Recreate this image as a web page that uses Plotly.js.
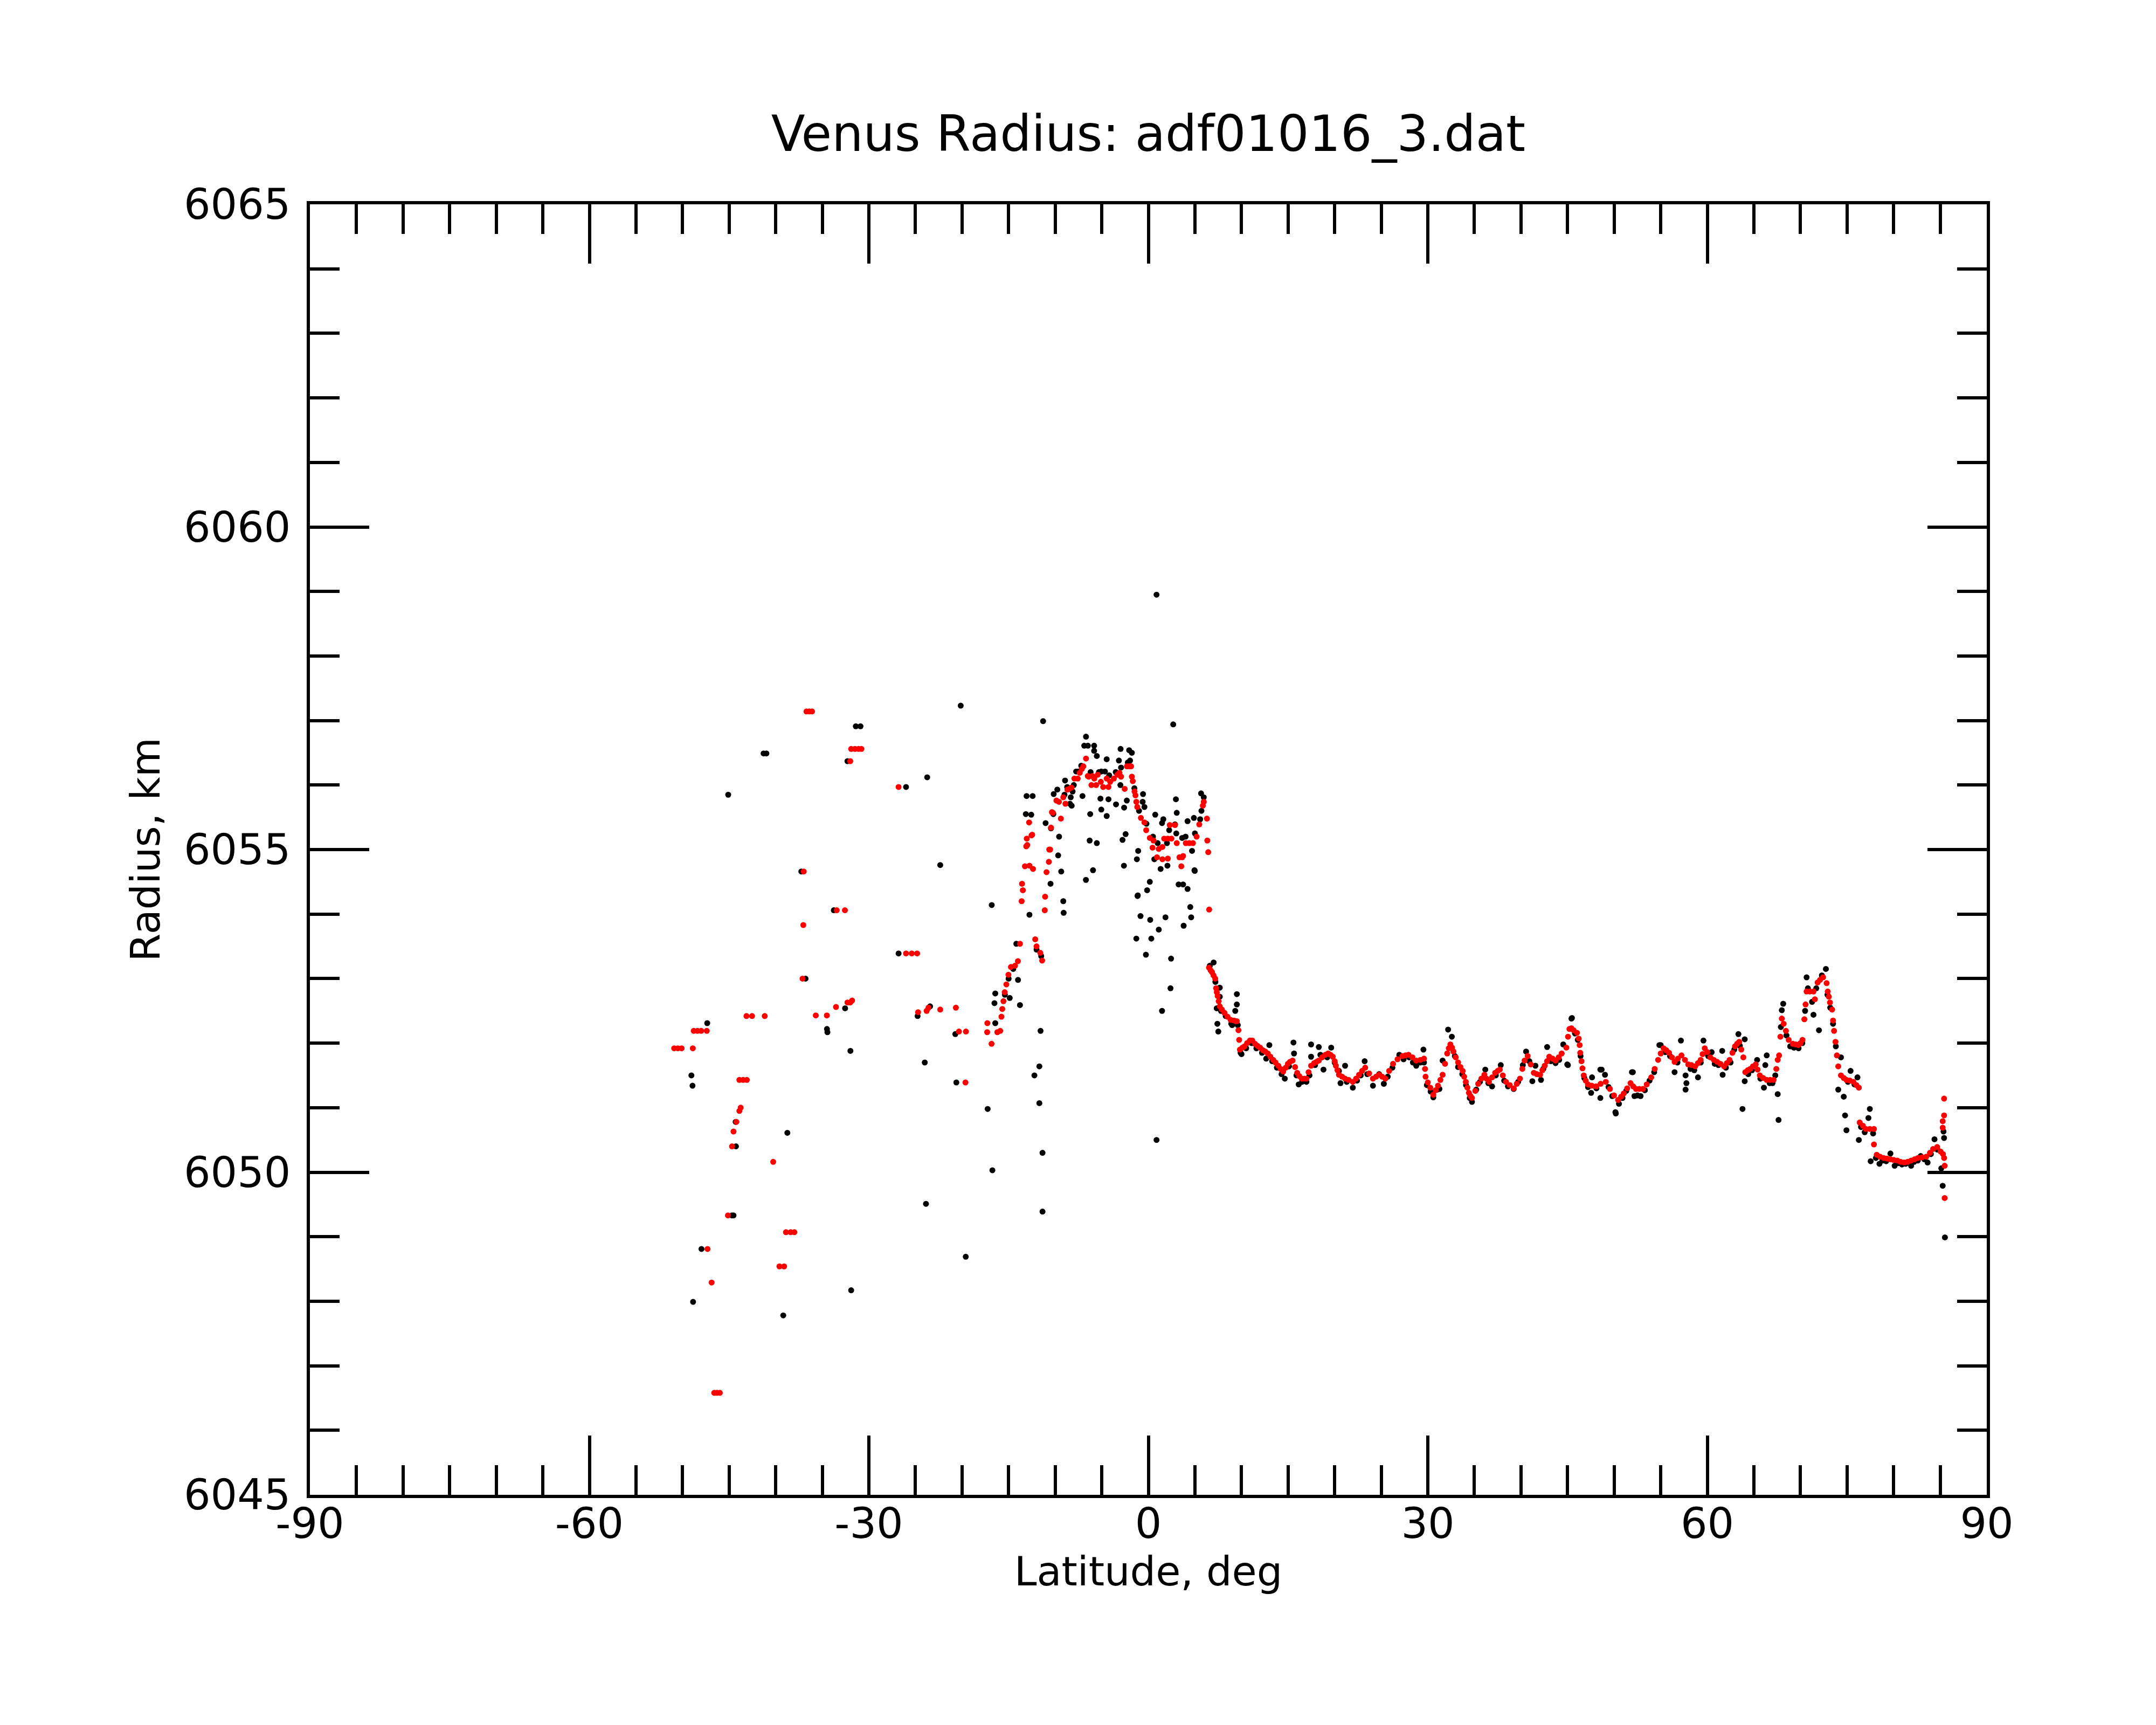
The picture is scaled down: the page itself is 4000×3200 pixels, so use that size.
<!DOCTYPE html>
<html>
<head>
<meta charset="utf-8">
<script src="https://cdn.plot.ly/plotly-3.0.1.min.js"></script>
<style>html,body{margin:0;padding:0;background:#fff;}</style>
</head>
<body>
<div id="chart" style="width:4000px;height:3200px;"></div>
<script>
// ---- DATA: [latitude (deg), radius (km)] ----
const chartTitle = "Venus Radius: adf01016_3.dat";
const xTitle = "Latitude, deg";
const yTitle = "Radius, km";
const xTickVals = [-90, -60, -30, 0, 30, 60, 90];
const yTickVals = [6045, 6050, 6055, 6060, 6065];

// raw radius samples (black)
const blackSouth = [
  [-49.05,6051.50],[-48.93,6051.34],[-48.87,6047.99],[-47.97,6048.81],[-47.35,6052.31],
  [-45.10,6055.85],[-44.70,6049.33],[-44.53,6049.33],[-44.27,6050.40],[-44.30,6050.78],
  [-41.30,6056.49],[-41.00,6056.49],[-39.19,6047.78],[-38.75,6050.61],[-37.25,6054.66],
  [-36.80,6053.00],[-34.50,6052.22],[-34.45,6052.17],[-33.76,6054.06],[-32.55,6052.54],
  [-32.30,6056.37],[-31.98,6051.88],[-31.90,6048.17],[-31.40,6056.91],[-30.90,6056.91],
  [-26.81,6053.39],[-26.01,6055.97],[-24.77,6052.42],[-24.00,6051.70],[-23.87,6049.51],
  [-23.74,6056.12],[-23.43,6052.57],[-22.34,6054.76],[-20.72,6052.14],[-20.61,6051.39],
  [-20.14,6057.23],[-19.60,6048.69],[-17.25,6050.98],[-16.81,6054.14],[-16.74,6050.03]
];
const blackEquator = [
  [-16.43,6052.77],[-16.52,6052.62],[-16.43,6052.31],[-14.88,6052.70],[-13.78,6052.59],
  [-13.99,6052.98],[-14.17,6053.54],[-12.76,6053.99],[-11.57,6052.19],[-11.70,6051.64],
  [-12.23,6051.50],[-11.70,6051.07],[-11.36,6050.30],[-11.36,6049.39],[-11.30,6056.99],
  [-13.07,6055.83],[-12.42,6055.83],[-13.15,6055.55],[-12.57,6055.54],[-11.03,6055.41],
  [-10.45,6055.33],[-9.58,6055.20],[-10.50,6054.47],[-9.68,6054.91],[-9.35,6054.66],
  [-9.13,6054.20],[-9.09,6054.02],[-10.16,6055.86],[-9.77,6055.93],[-8.94,6056.07],
  [-8.71,6055.97],[-8.13,6055.90],[-8.33,6055.81],[-8.42,6055.71],[-8.23,6055.68],
  [-7.75,6056.21],[-7.50,6056.21],[-7.07,6055.83],[-6.88,6056.61],[-6.69,6056.75],
  [-6.49,6056.61],[-5.82,6056.61],[-5.82,6056.53],[-5.53,6056.45],[-4.47,6056.40],
  [-2.98,6056.56],[-2.06,6056.54],[-1.77,6056.50],[-3.16,6056.38],[-1.96,6056.38],
  [-5.05,6056.21],[-4.66,6056.21],[-2.93,6056.27],[-5.14,6055.79],[-4.28,6055.78],
  [-3.47,6055.70],[-2.60,6055.65],[-2.31,6055.76],[-6.24,6055.55],[-5.05,6055.62],
  [-4.47,6055.52],[-6.30,6055.14],[-5.53,6055.10],[-5.94,6054.68],[-6.70,6054.53],
  [-2.44,6055.24],[-2.77,6055.15],[-2.62,6054.75],[-0.57,6055.86],[-0.61,6055.74],
  [-0.42,6055.66],[0.74,6055.54],[1.61,6055.47],[1.47,6055.41],[2.24,6055.30],
  [2.86,6055.39],[3.05,6055.57],[2.96,6055.78],[4.21,6055.44],[4.89,6055.49],
  [5.56,6055.47],[5.66,6055.87],[5.95,6055.81],[3.63,6055.18],[4.69,6054.98],
  [4.98,6054.67],[-1.09,6054.98],[-1.23,6054.85],[0.16,6054.50],[-0.13,6054.37],
  [-1.13,6054.29],[0.64,6054.85],[1.32,6054.70],[2.05,6054.75],[3.25,6054.46],
  [3.73,6054.46],[4.21,6054.39],[4.50,6054.11],[4.60,6053.95],[3.79,6053.82],
  [-0.84,6053.97],[0.20,6053.91],[1.84,6053.95],[1.12,6053.76],[-1.29,6053.62],
  [0.32,6053.62],[-0.26,6053.37],[2.44,6053.31],[2.38,6052.85],[1.47,6052.50],
  [0.88,6058.95],[0.88,6050.50],[2.67,6056.94],[4.95,6054.68],[-1.16,6054.28],
  [-9.00,6055.85],[-8.00,6056.00],[-7.20,6056.30],[-6.20,6056.20],[-5.30,6056.20],
  [-4.20,6056.15],[-3.50,6056.20],[-3.00,6056.00],[-2.20,6056.35],[-1.50,6055.95],
  [-1.00,6055.60],[-0.20,6055.40],[0.50,6055.20],[1.00,6055.10],[2.00,6055.10],
  [3.00,6055.25],[4.00,6055.20],[5.00,6055.25],[5.70,6055.60],[-15.40,6052.75],
  [-15.00,6053.00],[-14.50,6053.15],[-12.00,6053.45],[-11.50,6053.35],[-10.20,6055.55]
];
const blackNorth = [
  [6.60,6053.20],[7.01,6053.25],[7.20,6052.95],[7.34,6052.54],[7.41,6052.30],[7.51,6052.18],
  [7.67,6052.86],[7.67,6052.72],[7.80,6052.50],[8.30,6052.42],[8.90,6052.30],[9.00,6052.28],
  [9.33,6052.50],[9.50,6052.60],[9.50,6052.76],[9.60,6052.28],[9.90,6051.85],[10.00,6051.83],
  [10.50,6051.92],[11.10,6052.00],[11.60,6051.92],[12.20,6051.85],[12.65,6051.76],[12.99,6051.97],
  [13.30,6051.72],[13.80,6051.62],[14.30,6051.52],[14.65,6051.45],[15.10,6051.64],[15.58,6052.01],
  [15.64,6051.84],[15.90,6051.50],[16.14,6051.36],[16.50,6051.40],[16.97,6051.40],[17.30,6051.50],
  [17.47,6051.98],[17.47,6051.79],[17.90,6051.66],[18.30,6051.94],[18.47,6051.82],[18.80,6051.59],
  [19.20,6051.78],[19.63,6051.93],[20.00,6051.70],[20.46,6051.57],[20.63,6051.38],[21.12,6051.65],
  [21.30,6051.40],[21.95,6051.31],[22.40,6051.42],[22.80,6051.50],[23.22,6051.72],[23.50,6051.52],
  [24.11,6051.34],[24.78,6051.52],[25.28,6051.37],[25.70,6051.48],[26.20,6051.62],[26.94,6051.82],
  [27.40,6051.75],[28.00,6051.78],[28.40,6051.70],[28.76,6051.65],[29.20,6051.70],[29.53,6051.90],
  [29.59,6051.70],[29.90,6051.35],[30.30,6051.25],[30.59,6051.16],[31.00,6051.28],[31.25,6051.29],
  [31.59,6051.73],[32.18,6052.21],[32.58,6052.10],[32.90,6051.80],[33.25,6051.63],[33.70,6051.52],
  [34.10,6051.35],[34.50,6051.15],[34.74,6051.09],[35.20,6051.28],[35.60,6051.40],[36.17,6051.59],
  [36.50,6051.38],[36.90,6051.33],[37.30,6051.50],[37.83,6051.66],[38.20,6051.42],[38.60,6051.33],
  [39.22,6051.29],[39.70,6051.40],[40.20,6051.66],[40.55,6051.87],[40.90,6051.72],[41.22,6051.41],
  [41.55,6051.65],[42.15,6051.43],[42.40,6051.60],[42.81,6051.94],[43.20,6051.72],[43.71,6051.69],
  [44.10,6051.74],[44.54,6051.98],[44.97,6051.67],[45.04,6051.66],[45.42,6052.38],[45.47,6052.39],
  [45.80,6052.15],[46.10,6052.05],[46.40,6051.80],[46.80,6051.46],[47.20,6051.32],[47.53,6051.23],
  [47.63,6051.47],[48.10,6051.30],[48.52,6051.15],[48.52,6051.59],[48.66,6051.59],[49.02,6051.51],
  [49.40,6051.32],[49.80,6051.18],[50.14,6050.93],[50.18,6050.91],[50.52,6051.06],[50.90,6051.15],
  [51.30,6051.26],[51.91,6051.55],[52.01,6051.55],[52.18,6051.18],[52.50,6051.19],[52.84,6051.18],
  [53.30,6051.27],[53.80,6051.42],[54.30,6051.55],[54.86,6051.97],[55.00,6051.97],[55.50,6051.86],
  [56.00,6051.80],[56.49,6051.55],[56.80,6051.70],[57.17,6052.04],[57.67,6051.50],[57.76,6051.38],
  [57.67,6051.28],[58.20,6051.60],[58.60,6051.58],[59.00,6051.47],[59.30,6051.70],[59.59,6052.04],
  [60.10,6051.80],[60.47,6051.86],[60.80,6051.68],[61.20,6051.66],[61.60,6051.88],[61.65,6051.51],
  [62.00,6051.62],[62.50,6051.70],[62.90,6051.90],[63.34,6052.14],[63.50,6051.96],[63.78,6050.98],
  [64.02,6052.06],[64.02,6051.41],[64.40,6051.52],[64.80,6051.58],[65.35,6051.74],[65.70,6051.45],
  [66.08,6051.31],[66.23,6051.66],[66.38,6051.81],[66.70,6051.38],[67.00,6051.38],[67.30,6051.50],
  [67.56,6051.21],[67.65,6050.81],[67.90,6052.25],[68.00,6052.51],[68.15,6052.61],[68.50,6052.12],
  [68.90,6051.95],[69.30,6051.93],[69.80,6051.92],[70.20,6052.00],[70.50,6052.50],[70.66,6053.02],
  [70.80,6052.85],[71.25,6052.64],[71.40,6052.44],[71.70,6052.85],[71.99,6052.20],[72.30,6053.05],
  [72.73,6053.15],[72.90,6052.75],[73.20,6052.55],[73.50,6052.30],[73.80,6051.95],[74.06,6051.28],
  [74.35,6051.78],[74.65,6051.17],[74.79,6050.88],[74.94,6050.65],[75.10,6051.40],[75.38,6051.57],
  [75.80,6051.36],[76.12,6051.47],[76.27,6050.50],[76.50,6050.70],[76.90,6050.62],[77.30,6050.84],
  [77.45,6050.98],[77.54,6050.17],[77.80,6050.60],[78.10,6050.22],[78.48,6050.13],[78.80,6050.18],
  [79.20,6050.17],[79.66,6050.29],[80.11,6050.10],[80.50,6050.14],[80.90,6050.12],[81.30,6050.13],
  [81.88,6050.10],[82.20,6050.16],[82.60,6050.18],[82.91,6050.25],[83.30,6050.20],[83.65,6050.15],
  [84.00,6050.28],[84.39,6050.51],[84.70,6050.35],[85.12,6050.06],[85.27,6049.79],[85.36,6050.63],
  [85.42,6050.53],[85.51,6048.99]
];

// smoothed radius (red)
const redSouth = [
  [-50.90,6051.92],[-50.50,6051.92],[-50.10,6051.92],[-48.90,6051.92],[-48.80,6052.19],
  [-48.40,6052.19],[-48.00,6052.19],[-47.40,6052.19],[-47.32,6048.81],[-46.88,6048.29],
  [-46.60,6046.58],[-46.30,6046.58],[-46.00,6046.58],[-45.13,6049.33],[-44.69,6050.40],
  [-44.53,6050.63],[-44.22,6050.78],[-43.90,6050.95],[-43.76,6051.00],[-43.90,6051.43],
  [-43.50,6051.43],[-43.10,6051.43],[-43.14,6052.42],[-42.54,6052.42],[-41.18,6052.42],
  [-40.27,6050.16],[-39.60,6048.54],[-39.10,6048.54],[-38.90,6049.07],[-38.40,6049.07],
  [-38.00,6049.07],[-37.04,6053.83],[-36.99,6054.66],[-37.12,6053.00],[-36.70,6057.14],
  [-36.40,6057.14],[-36.10,6057.14],[-35.70,6052.43],[-34.51,6052.43],[-33.45,6054.06],
  [-32.57,6054.06],[-33.53,6052.56],[-32.30,6052.63],[-32.00,6052.63],[-31.80,6052.66],
  [-32.00,6056.37],[-31.90,6056.56],[-31.50,6056.56],[-31.10,6056.56],[-30.80,6056.56],
  [-26.81,6055.97],[-26.01,6053.39],[-25.40,6053.39],[-24.82,6053.39],[-24.72,6052.48],
  [-23.80,6052.50],[-23.60,6052.55],[-22.34,6052.52],[-20.66,6052.55],[-20.33,6052.18],
  [-19.58,6052.18],[-19.63,6051.39]
];
const redEquator = [
  [-17.28,6052.31],[-17.30,6052.17],[-16.83,6051.99],[-16.21,6052.17],[-15.90,6052.19],
  [-15.77,6052.41],[-15.68,6052.53],[-15.55,6052.65],[-15.42,6052.79],[-15.24,6052.91],
  [-15.02,6053.06],[-14.75,6053.18],[-14.31,6053.20],[-14.00,6053.27],[-13.78,6053.54],
  [-13.60,6054.20],[-13.56,6054.47],[-13.47,6054.37],[-13.25,6054.74],[-13.11,6055.05],
  [-13.05,6055.17],[-13.00,6055.07],[-12.80,6055.42],[-12.76,6054.75],[-12.54,6055.22],
  [-12.47,6055.23],[-12.38,6054.70],[-12.14,6053.61],[-12.00,6053.50],[-11.60,6053.40],
  [-11.40,6053.28],[-11.12,6054.06],[-11.08,6054.27],[-10.93,6054.65],[-10.68,6054.81],
  [-10.64,6055.00],[-10.54,6055.00],[-10.45,6055.34],[-10.35,6055.58],[-10.24,6055.57],
  [-9.87,6055.76],[-9.60,6055.74],[-9.39,6055.48],[-9.13,6055.81],[-8.90,6055.71],
  [-8.69,6055.93],[-8.52,6055.94],[-8.25,6055.96],[-7.94,6056.10],[-7.58,6056.10],
  [-7.36,6056.19],[-7.14,6056.25],[-6.98,6056.29],[-6.69,6056.41],[-6.40,6056.13],
  [-6.11,6056.00],[-5.80,6056.10],[-5.43,6056.16],[-5.10,6056.05],[-4.85,6055.97],
  [-4.47,6056.10],[-4.10,6056.05],[-3.70,6056.10],[-3.31,6056.16],[-2.93,6056.13],
  [-2.54,6055.94],[-2.30,6056.29],[-2.06,6056.29],[-1.85,6056.29],[-1.77,6056.13],
  [-1.67,6056.06],[-1.48,6055.90],[-1.38,6055.84],[-1.29,6055.74],[-1.19,6055.66],
  [-0.80,6055.49],[-0.42,6055.42],[-0.23,6055.30],[0.16,6055.18],[0.45,6055.03],
  [0.55,6055.14],[0.93,6054.88],[1.12,6055.01],[1.51,6055.04],[1.51,6054.85],
  [1.70,6055.17],[2.09,6055.17],[2.09,6054.86],[2.48,6055.17],[2.30,6055.38],
  [2.86,6055.38],[3.05,6055.10],[3.34,6054.88],[3.54,6054.74],[3.63,6054.88],
  [3.73,6054.90],[4.02,6055.10],[4.40,6055.10],[4.79,6055.10],[5.18,6055.20],
  [5.47,6055.39],[5.85,6055.68],[5.95,6055.74],[6.29,6055.48],[6.33,6055.14],
  [6.43,6054.96],[6.53,6054.07],[-6.50,6056.14],[-6.00,6056.14],[-5.60,6056.00],
  [-4.28,6055.97],[-3.10,6056.19]
];
const redNorth = [
  [6.51,6053.17],[6.68,6053.13],[6.84,6053.10],[7.00,6053.05],[7.18,6053.00],[7.27,6052.85],
  [7.35,6052.79],[7.44,6052.73],[7.55,6052.65],[7.67,6052.57],[7.90,6052.52],[8.17,6052.47],
  [8.50,6052.41],[8.84,6052.36],[9.20,6052.35],[9.50,6052.34],[9.67,6052.20],[9.75,6052.05],
  [9.83,6051.90],[10.10,6051.93],[10.33,6051.95],[10.60,6052.00],[10.90,6052.04],[11.16,6052.04],
  [11.45,6051.99],[11.70,6051.96],[11.99,6051.93],[12.30,6051.89],[12.55,6051.87],[12.82,6051.84],
  [13.10,6051.79],[13.40,6051.74],[13.65,6051.70],[13.95,6051.65],[14.20,6051.60],[14.48,6051.56],
  [14.75,6051.62],[14.98,6051.68],[15.20,6051.71],[15.48,6051.73],[15.75,6051.63],[15.98,6051.54],
  [16.20,6051.49],[16.47,6051.45],[16.75,6051.45],[16.97,6051.45],[17.20,6051.55],[17.47,6051.65],
  [17.80,6051.69],[18.05,6051.71],[18.30,6051.73],[18.65,6051.78],[19.00,6051.82],[19.30,6051.84],
  [19.55,6051.82],[19.80,6051.79],[20.00,6051.72],[20.13,6051.65],[20.30,6051.58],[20.46,6051.51],
  [20.80,6051.48],[21.12,6051.45],[21.50,6051.43],[21.95,6051.40],[22.30,6051.45],[22.62,6051.51],
  [22.95,6051.57],[23.28,6051.62],[23.70,6051.53],[24.11,6051.45],[24.45,6051.48],[24.78,6051.51],
  [25.10,6051.48],[25.44,6051.45],[25.85,6051.57],[26.27,6051.68],[26.75,6051.75],[27.27,6051.80],
  [27.60,6051.81],[27.93,6051.82],[28.35,6051.78],[28.76,6051.73],[29.20,6051.74],[29.59,6051.76],
  [29.70,6051.60],[29.76,6051.48],[30.00,6051.39],[30.26,6051.31],[30.59,6051.20],[30.85,6051.27],
  [31.09,6051.34],[31.35,6051.43],[31.59,6051.51],[31.85,6051.68],[32.08,6051.84],[32.25,6051.92],
  [32.42,6051.98],[32.60,6051.93],[32.75,6051.87],[33.00,6051.78],[33.25,6051.70],[33.50,6051.63],
  [33.74,6051.57],[33.90,6051.48],[34.08,6051.40],[34.25,6051.31],[34.41,6051.23],[34.58,6051.18],
  [34.74,6051.15],[35.10,6051.26],[35.41,6051.37],[35.75,6051.45],[36.07,6051.51],[36.30,6051.45],
  [36.57,6051.40],[36.90,6051.47],[37.23,6051.54],[37.50,6051.57],[37.73,6051.59],[38.05,6051.50],
  [38.39,6051.40],[38.80,6051.35],[39.22,6051.30],[39.55,6051.37],[39.89,6051.45],[40.15,6051.60],
  [40.39,6051.73],[40.72,6051.80],[41.05,6051.67],[41.38,6051.54],[41.70,6051.52],[42.05,6051.51],
  [42.30,6051.58],[42.55,6051.65],[42.80,6051.72],[43.04,6051.79],[43.40,6051.76],[43.71,6051.73],
  [44.05,6051.78],[44.37,6051.84],[44.87,6051.93],[45.05,6052.10],[45.20,6052.22],[45.42,6052.23],
  [45.65,6052.20],[46.01,6052.16],[46.20,6052.07],[46.30,6051.97],[46.36,6051.85],[46.50,6051.72],
  [46.60,6051.61],[46.74,6051.50],[46.95,6051.42],[47.19,6051.36],[47.60,6051.34],[48.07,6051.33],
  [48.55,6051.37],[49.11,6051.40],[49.55,6051.29],[49.99,6051.19],[50.43,6051.12],[50.75,6051.17],
  [51.03,6051.22],[51.40,6051.30],[51.76,6051.38],[52.05,6051.33],[52.35,6051.29],[52.70,6051.29],
  [53.09,6051.29],[53.50,6051.36],[53.98,6051.47],[54.35,6051.60],[54.72,6051.74],[55.00,6051.84],
  [55.31,6051.92],[55.60,6051.89],[55.90,6051.85],[56.20,6051.78],[56.49,6051.71],[56.85,6051.76],
  [57.23,6051.81],[57.60,6051.74],[57.96,6051.67],[58.30,6051.66],[58.70,6051.64],[59.00,6051.69],
  [59.29,6051.74],[59.50,6051.83],[59.73,6051.92],[60.00,6051.86],[60.33,6051.78],[60.70,6051.74],
  [61.06,6051.71],[61.40,6051.68],[61.80,6051.64],[62.10,6051.69],[62.39,6051.74],[62.70,6051.85],
  [62.98,6051.95],[63.20,6051.99],[63.43,6052.02],[63.65,6051.90],[63.87,6051.78],[64.08,6051.55],
  [64.35,6051.58],[64.61,6051.60],[64.90,6051.64],[65.20,6051.67],[65.40,6051.59],[65.64,6051.50],
  [66.00,6051.46],[66.38,6051.43],[66.75,6051.43],[67.12,6051.43],[67.41,6051.60],[67.56,6051.74],
  [67.71,6051.81],[67.85,6052.10],[68.00,6052.38],[68.20,6052.30],[68.44,6052.19],[68.74,6052.05],
  [69.18,6051.99],[69.50,6051.98],[69.77,6051.97],[70.00,6052.00],[70.22,6052.05],[70.42,6052.37],
  [70.55,6052.60],[70.66,6052.80],[71.00,6052.80],[71.40,6052.80],[71.55,6052.68],[71.84,6052.94],
  [72.10,6052.98],[72.43,6053.02],[72.81,6052.93],[72.93,6052.80],[73.05,6052.72],[73.17,6052.63],
  [73.40,6052.52],[73.50,6052.35],[73.61,6052.19],[73.76,6052.02],[73.91,6051.81],[74.06,6051.64],
  [74.35,6051.50],[74.65,6051.46],[74.94,6051.43],[75.30,6051.42],[75.68,6051.40],[76.00,6051.35],
  [76.27,6051.31],[76.36,6050.77],[76.70,6050.72],[77.01,6050.67],[77.45,6050.67],[77.89,6050.67],
  [77.89,6050.43],[78.19,6050.27],[78.55,6050.24],[78.93,6050.22],[79.30,6050.21],[79.66,6050.20],
  [80.00,6050.19],[80.40,6050.18],[80.75,6050.16],[81.14,6050.15],[81.50,6050.16],[81.88,6050.18],
  [82.25,6050.20],[82.62,6050.22],[83.05,6050.23],[83.50,6050.24],[83.90,6050.30],[84.24,6050.36],
  [84.68,6050.39],[85.04,6050.32],[85.30,6050.28],[85.42,6050.22],[85.48,6050.10],[85.42,6051.14],
  [85.42,6050.88],[85.27,6050.79],[85.27,6050.69],[85.48,6049.60]
];

const blackPts = blackSouth.concat(blackEquator, blackNorth);
const redPts = redSouth.concat(redEquator, redNorth);

const FONT = "DejaVu Sans, Liberation Sans, sans-serif";

const traces = [
  {
    type: "scatter", mode: "markers",
    x: blackPts.map(p => p[0]), y: blackPts.map(p => p[1]),
    marker: {color: "#000000", size: 11, line: {width: 0}},
    hoverinfo: "skip", showlegend: false
  },
  {
    type: "scatter", mode: "markers",
    x: redPts.map(p => p[0]), y: redPts.map(p => p[1]),
    marker: {color: "#ff0000", size: 11, line: {width: 0}},
    hoverinfo: "skip", showlegend: false
  }
];

const axisCommon = {
  showgrid: false, zeroline: false, showline: true,
  linecolor: "#000", linewidth: 6, mirror: "ticks",
  ticks: "inside", tickcolor: "#000", tickwidth: 6, ticklen: 110,
  tickfont: {family: FONT, size: 78, color: "#000"},
  automargin: false
};

const layout = {
  width: 4000, height: 3200,
  paper_bgcolor: "#fff", plot_bgcolor: "#fff",
  margin: {l: 575, r: 314, t: 379, b: 427},
  font: {family: FONT, color: "#000"},
  showlegend: false,
  title: {
    text: chartTitle,
    font: {family: FONT, size: 92, color: "#000"},
    xref: "paper", x: 0.5, xanchor: "center",
    yref: "container", y: 1 - 248/3200, yanchor: "middle"
  },
  xaxis: Object.assign({}, axisCommon, {
    range: [-90, 90], tickmode: "array", tickvals: xTickVals,
    ticktext: xTickVals.map(String),
    ticklabelstandoff: -20,
    minor: {dtick: 5, tick0: -90, ticks: "inside", ticklen: 55, tickwidth: 6, tickcolor: "#000", showgrid: false},
    title: {text: xTitle, font: {family: FONT, size: 75, color: "#000"}, standoff: 15}
  }),
  yaxis: Object.assign({}, axisCommon, {
    range: [6045, 6065], tickmode: "array", tickvals: yTickVals,
    ticktext: yTickVals.map(String),
    ticklabelstandoff: 14,
    minor: {dtick: 1, tick0: 6045, ticks: "inside", ticklen: 55, tickwidth: 6, tickcolor: "#000", showgrid: false},
    title: {text: yTitle, font: {family: FONT, size: 75, color: "#000"}, standoff: 22}
  })
};

Plotly.newPlot("chart", traces, layout, {staticPlot: true, displayModeBar: false});
</script>
</body>
</html>
